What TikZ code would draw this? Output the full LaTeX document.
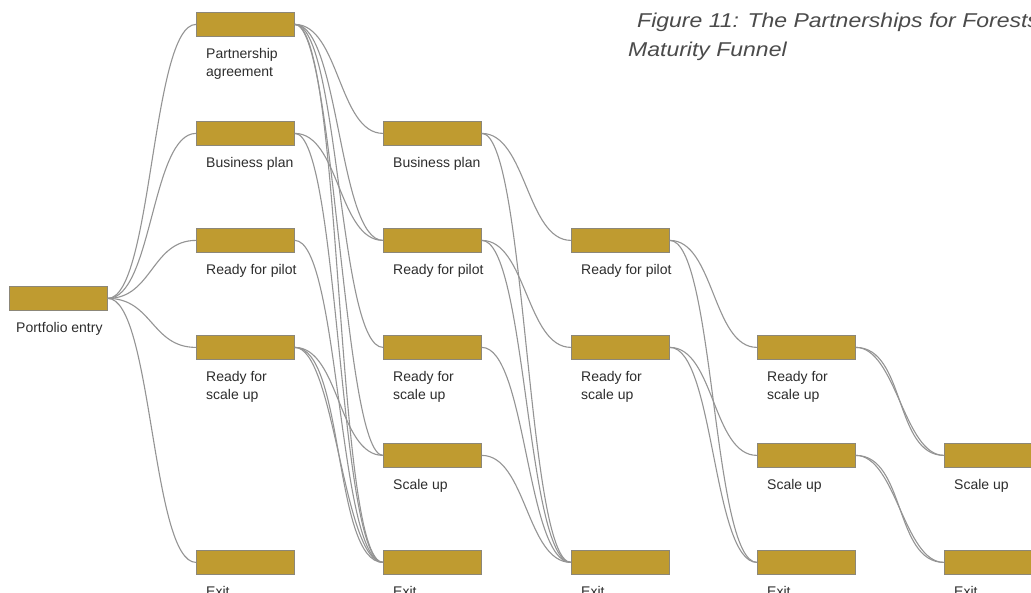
\documentclass[tikz,border=0pt]{standalone}
\usepackage{fontspec}
\setmainfont{Liberation Sans}
\newfontfamily\capfont[FakeStretch=1.15]{Liberation Sans}
\definecolor{gold}{RGB}{191,155,48}
\definecolor{boxline}{RGB}{140,135,120}
\definecolor{linkc}{RGB}{148,148,148}
\definecolor{txt}{RGB}{45,45,45}
\definecolor{captxt}{RGB}{75,75,75}
\newcommand\lnk[3][44.5]{\draw[link] (#2.east) .. controls +(#1,0) and +(-#1,0) .. (#3.west);}
\begin{document}
\begin{tikzpicture}[x=1pt,y=-1pt,
  stagebox/.style={draw=boxline, fill=gold, line width=0.8pt, minimum width=98pt, minimum height=24pt, inner sep=0pt, anchor=north west},
  lbl/.style={anchor=north west, inner sep=0pt, text=txt, font=\fontsize{14}{18}\selectfont, align=left},
  link/.style={draw=linkc, line width=1.1pt},
  captionstyle/.style={anchor=north west, inner sep=0pt, text=captxt, font=\capfont\itshape\fontsize{20}{29}\selectfont, align=left}]
\useasboundingbox (0,0) rectangle (1031,592);
\fill[white] (0,0) rectangle (1031,592);
\clip (0,0) rectangle (1031,592);

% column 0
\node[stagebox] (pe) at (9,286) {};
\node[lbl] (pel) at (16,322) {Portfolio entry};

% column 1
\node[stagebox] (pa1) at (196,12) {};
\node[stagebox] (bp1) at (196,121) {};
\node[stagebox] (rp1) at (196,228) {};
\node[stagebox] (rs1) at (196,335) {};
\node[stagebox] (ex1) at (196,550) {};
\node[lbl] (pa1l) at (206,48) {Partnership\\agreement};
\node[lbl] (bp1l) at (206,157) {Business plan};
\node[lbl] (rp1l) at (206,264) {Ready for pilot};
\node[lbl] (rs1l) at (206,371) {Ready for\\scale up};
\node[lbl] (ex1l) at (206,586) {Exit};

% column 2
\node[stagebox] (bp2) at (383,121) {};
\node[stagebox] (rp2) at (383,228) {};
\node[stagebox] (rs2) at (383,335) {};
\node[stagebox] (su2) at (383,443) {};
\node[stagebox] (ex2) at (383,550) {};
\node[lbl] (bp2l) at (393,157) {Business plan};
\node[lbl] (rp2l) at (393,264) {Ready for pilot};
\node[lbl] (rs2l) at (393,371) {Ready for\\scale up};
\node[lbl] (su2l) at (393,479) {Scale up};
\node[lbl] (ex2l) at (393,586) {Exit};

% column 3
\node[stagebox] (rp3) at (571,228) {};
\node[stagebox] (rs3) at (571,335) {};
\node[stagebox] (ex3) at (571,550) {};
\node[lbl] (rp3l) at (581,264) {Ready for pilot};
\node[lbl] (rs3l) at (581,371) {Ready for\\scale up};
\node[lbl] (ex3l) at (581,586) {Exit};

% column 4
\node[stagebox] (rs4) at (757,335) {};
\node[stagebox] (su4) at (757,443) {};
\node[stagebox] (ex4) at (757,550) {};
\node[lbl] (rs4l) at (767,371) {Ready for\\scale up};
\node[lbl] (su4l) at (767,479) {Scale up};
\node[lbl] (ex4l) at (767,586) {Exit};

% column 5
\node[stagebox] (su5) at (944,443) {};
\node[stagebox] (ex5) at (944,550) {};
\node[lbl] (su5l) at (954,479) {Scale up};
\node[lbl] (ex5l) at (954,586) {Exit};

% caption
\node[captionstyle] (caption) at (628,13) {\hspace*{9pt}Figure 11: The Partnerships for Forests\\Maturity Funnel};

% links column 0 -> 1
\lnk{pe}{pa1}
\lnk{pe}{bp1}
\lnk{pe}{rp1}
\lnk{pe}{rs1}
\lnk{pe}{ex1}

% links column 1 -> 2
\lnk{pa1}{bp2}
\lnk{pa1}{rp2}
\lnk{pa1}{rs2}
\lnk[40]{pa1}{su2}
\lnk[48]{pa1}{ex2}
\lnk{bp1}{rp2}
\lnk{bp1}{ex2}
\lnk{rp1}{ex2}
\lnk{rs1}{su2}
\lnk[40]{rs1}{ex2}
\lnk[50]{rs1}{ex2}

% links column 2 -> 3
\lnk{bp2}{rp3}
\lnk{bp2}{ex3}
\lnk{rp2}{rs3}
\lnk{rp2}{ex3}
\lnk{rs2}{ex3}
\lnk{su2}{ex3}

% links column 3 -> 4
\lnk{rp3}{rs4}
\lnk{rp3}{ex4}
\lnk{rs3}{su4}
\lnk{rs3}{ex4}

% links column 4 -> 5
\lnk[40]{rs4}{su5}
\lnk[50]{rs4}{su5}
\lnk[40]{su4}{ex5}
\lnk[50]{su4}{ex5}
\end{tikzpicture}
\end{document}
